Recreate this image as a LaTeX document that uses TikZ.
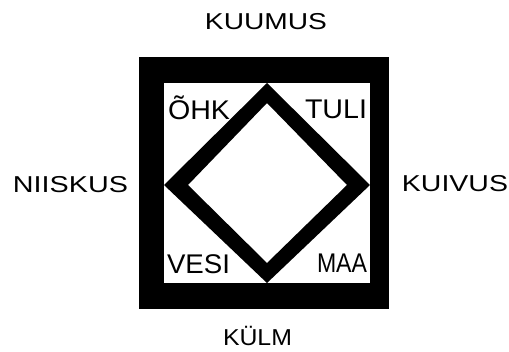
\documentclass[tikz,border=0pt]{standalone}
\usepackage{fontspec}
\setmainfont{Liberation Sans}
\usepackage{graphicx}
\tikzset{
  outerlbl/.style={inner sep=0pt, anchor=base, font=\fontsize{23}{23}\selectfont},
  innerlbl/.style={inner sep=0pt, anchor=base, font=\fontsize{27}{27}\selectfont},
}
\newcommand{\wlbl}[2]{\resizebox{#1}{\height}{#2}}
\begin{document}
\begin{tikzpicture}[x=1pt,y=-1pt]
\useasboundingbox (0,0) rectangle (509,351);
\fill[white] (0,0) rectangle (509,351);
% frame
\fill[black] (139,57) rectangle (389,309);
\fill[white] (164,83) rectangle (370,283);
% diamond band
\fill[black,even odd rule]
  (267,83) -- (370,185) -- (267,283) -- (164,185) -- cycle
  (267,103) -- (347,185) -- (267,263) -- (188,185) -- cycle;
% outer labels
\node[outerlbl] (kuumus) at (266,29) {\wlbl{122pt}{KUUMUS}};
\node[outerlbl] (niiskus) at (70.5,192) {\wlbl{115pt}{NIISKUS}};
\node[outerlbl] (kuivus) at (455,191) {\wlbl{106pt}{KUIVUS}};
\node[outerlbl] (kylm) at (257.5,345) {\wlbl{69pt}{KÜLM}};
% inner labels
\node[innerlbl] (ohk) at (199,119) {\wlbl{62pt}{ÕHK}};
\node[innerlbl] (tuli) at (336,118) {\wlbl{62pt}{TULI}};
\node[innerlbl] (vesi) at (198.5,273) {\wlbl{63pt}{VESI}};
\node[innerlbl] (maa) at (342,272) {\wlbl{50pt}{MAA}};
\end{tikzpicture}
\end{document}
